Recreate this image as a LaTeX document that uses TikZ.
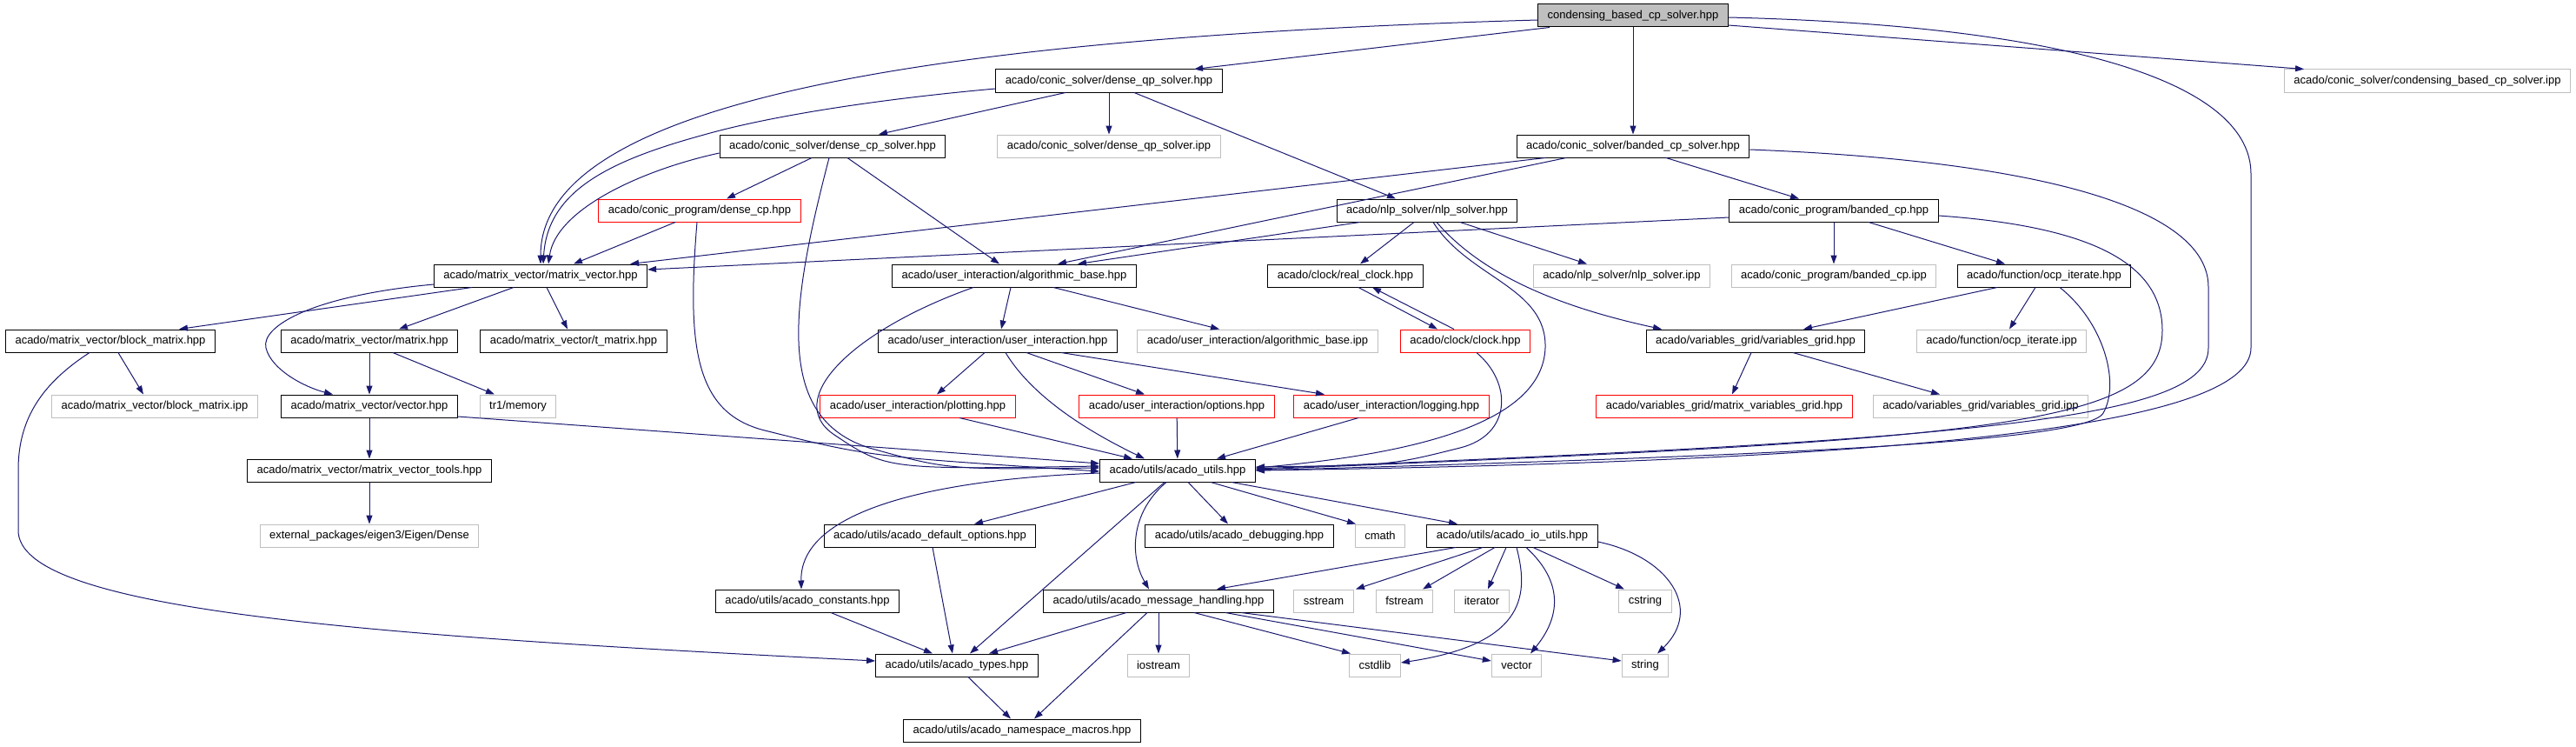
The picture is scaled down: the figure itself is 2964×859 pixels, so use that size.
\documentclass[tikz,border=0pt]{standalone}
\usepackage{fontspec}
\setmainfont{Liberation Sans}
\usetikzlibrary{arrows.meta}
\definecolor{edgeblue}{HTML}{191970}
\definecolor{extgray}{HTML}{BFBFBF}
\tikzset{
  filebox/.style={draw=black, fill=white, line width=1pt, minimum height=26pt,
    inner xsep=11pt, inner ysep=0pt, font=\fontsize{13}{15}\selectfont},
  extbox/.style={filebox, draw=extgray},
  redbox/.style={filebox, draw=red},
  incl/.style={draw=edgeblue, line width=1pt, -{Triangle[length=10pt,width=7pt]}},
}
\begin{document}
\begin{tikzpicture}[x=1pt,y=-1pt]
    \useasboundingbox (0,0) rectangle (2964,859);
    \node[filebox, fill=extgray] (root) at (1879,18) {condensing\_based\_cp\_solver.hpp};
    \node[filebox] (dqps)   at (1276,93)  {acado/conic\_solver/dense\_qp\_solver.hpp};
    \node[extbox]  (cbipp)  at (2793,93)  {acado/conic\_solver/condensing\_based\_cp\_solver.ipp};
    \node[filebox] (dcps)   at (958,168)  {acado/conic\_solver/dense\_cp\_solver.hpp};
    \node[extbox]  (dqpipp) at (1276,168) {acado/conic\_solver/dense\_qp\_solver.ipp};
    \node[filebox] (bcps)   at (1879,168) {acado/conic\_solver/banded\_cp\_solver.hpp};
    \node[redbox]  (dcp)    at (805,242)  {acado/conic\_program/dense\_cp.hpp};
    \node[filebox] (nlp)    at (1642,242) {acado/nlp\_solver/nlp\_solver.hpp};
    \node[filebox] (bcp)    at (2110,242) {acado/conic\_program/banded\_cp.hpp};
    \node[filebox] (mv)     at (622,317)  {acado/matrix\_vector/matrix\_vector.hpp};
    \node[filebox] (ab)     at (1167,317) {acado/user\_interaction/algorithmic\_base.hpp};
    \node[filebox] (rc)     at (1548,317) {acado/clock/real\_clock.hpp};
    \node[extbox]  (nlpipp) at (1866,317) {acado/nlp\_solver/nlp\_solver.ipp};
    \node[extbox]  (bcpipp) at (2110,317) {acado/conic\_program/banded\_cp.ipp};
    \node[filebox] (ocp)    at (2352,317) {acado/function/ocp\_iterate.hpp};
    \node[filebox] (bm)     at (127,392)  {acado/matrix\_vector/block\_matrix.hpp};
    \node[filebox] (mat)    at (425,392)  {acado/matrix\_vector/matrix.hpp};
    \node[filebox] (tm)     at (660,392)  {acado/matrix\_vector/t\_matrix.hpp};
    \node[filebox] (ui)     at (1148,392) {acado/user\_interaction/user\_interaction.hpp};
    \node[extbox]  (abipp)  at (1447,392) {acado/user\_interaction/algorithmic\_base.ipp};
    \node[redbox]  (clk)    at (1686,392) {acado/clock/clock.hpp};
    \node[filebox] (vg)     at (2020,392) {acado/variables\_grid/variables\_grid.hpp};
    \node[extbox]  (ocpipp) at (2303,392) {acado/function/ocp\_iterate.ipp};
    \node[extbox]  (bmipp)  at (178,467)  {acado/matrix\_vector/block\_matrix.ipp};
    \node[filebox] (vec)    at (425,467)  {acado/matrix\_vector/vector.hpp};
    \node[extbox]  (tr1)    at (596,467)  {tr1/memory};
    \node[redbox]  (plot)   at (1056,467) {acado/user\_interaction/plotting.hpp};
    \node[redbox]  (opt)    at (1354,467) {acado/user\_interaction/options.hpp};
    \node[redbox]  (log)    at (1601,467) {acado/user\_interaction/logging.hpp};
    \node[redbox]  (mvg)    at (1984,467) {acado/variables\_grid/matrix\_variables\_grid.hpp};
    \node[extbox]  (vgipp)  at (2279,467) {acado/variables\_grid/variables\_grid.ipp};
    \node[filebox] (mvt)    at (425,541)  {acado/matrix\_vector/matrix\_vector\_tools.hpp};
    \node[filebox] (utils)  at (1355,541) {acado/utils/acado\_utils.hpp};
    \node[extbox]  (eig)    at (425,616)  {external\_packages/eigen3/Eigen/Dense};
    \node[filebox] (dopt)   at (1070,616) {acado/utils/acado\_default\_options.hpp};
    \node[filebox] (dbg)    at (1426,616) {acado/utils/acado\_debugging.hpp};
    \node[extbox]  (cmath)  at (1588,616) {cmath};
    \node[filebox] (io)     at (1740,616) {acado/utils/acado\_io\_utils.hpp};
    \node[filebox] (cnst)   at (929,691)  {acado/utils/acado\_constants.hpp};
    \node[filebox] (msg)    at (1333,691) {acado/utils/acado\_message\_handling.hpp};
    \node[extbox]  (sstr)   at (1523,691) {sstream};
    \node[extbox]  (fstr)   at (1616,691) {fstream};
    \node[extbox]  (iter)   at (1705,691) {iterator};
    \node[extbox]  (cstr)   at (1893,691) {cstring};
    \node[filebox] (types)  at (1101,765) {acado/utils/acado\_types.hpp};
    \node[extbox]  (iostr)  at (1333,765) {iostream};
    \node[extbox]  (cstdl)  at (1582,765) {cstdlib};
    \node[extbox]  (vect)   at (1745,765) {vector};
    \node[extbox]  (strg)   at (1893,765) {string};
    \node[filebox] (ns)     at (1176,840) {acado/utils/acado\_namespace\_macros.hpp};

    \draw[incl] ([yshift=-5pt]root.west) .. controls (1000,45) and (622,130) .. (mv.north);
    \draw[incl] ([xshift=-96pt]root.south) -- ([xshift=98pt]dqps.north);
    \draw[incl] (root) -- (bcps);
    \draw[incl] ([yshift=-11pt]root.east) -- ([xshift=-142pt]cbipp.north);
    \draw[incl] ([yshift=-2pt]root.east) .. controls (2400,30) and (2590,100) .. (2590,200)
        -- (2590,400) .. controls (2590,490) and (2200,530) .. (utils.east);

    \draw[incl] ([yshift=-9pt]dqps.west) .. controls (1000,115) and (880,135) .. (810,155)
        .. controls (700,185) and (630,220) .. ([xshift=3pt]mv.north);
    \draw[incl] ([xshift=-50pt]dqps.south) -- ([xshift=53pt]dcps.north);
    \draw[incl] (dqps) -- (dqpipp);
    \draw[incl] ([xshift=29pt]dqps.south) -- ([xshift=-36pt]nlp.north);

    \draw[incl] ([yshift=-8pt]dcps.west) .. controls (740,195) and (640,240) .. ([xshift=9pt]mv.north);
    \draw[incl] ([xshift=-24pt]dcps.south) -- ([xshift=31pt]dcp.north);
    \draw[incl] ([xshift=-4pt]dcps.south) .. controls (910,350) and (890,480) .. (1000,515)
        .. controls (1090,540) .. ([yshift=3pt]utils.west);
    \draw[incl] ([xshift=17pt]dcps.south) -- ([xshift=-17pt]ab.north);

    \draw[incl] ([xshift=-28pt]dcp.south) -- ([xshift=38pt]mv.north);
    \draw[incl] ([xshift=-3pt]dcp.south) .. controls (790,400) and (800,475) .. (880,495)
        .. controls (1000,525) .. ([yshift=-1pt]utils.west);

    \draw[incl] ([xshift=-101pt]bcps.south) -- ([xshift=103pt]mv.north);
    \draw[incl] ([xshift=-77pt]bcps.south) -- ([xshift=50pt]ab.north);
    \draw[incl] ([xshift=38pt]bcps.south) -- ([xshift=-40pt]bcp.north);
    \draw[incl] ([yshift=-4pt]bcps.east) .. controls (2350,185) and (2541,240) .. (2541,330)
        -- (2541,400) .. controls (2541,480) and (2300,505) .. ([yshift=2pt]utils.east);

    \draw[incl] ([xshift=-77pt]nlp.south) -- ([xshift=73pt]ab.north);
    \draw[incl] ([xshift=-15pt]nlp.south) -- ([xshift=17pt]rc.north);
    \draw[incl] ([xshift=7pt]nlp.south) .. controls (1690,320) and (1780,330) .. (1778,400)
        .. controls (1775,480) and (1650,520) .. ([yshift=3pt]utils.east);
    \draw[incl] ([xshift=11pt]nlp.south) .. controls (1700,310) and (1780,350) .. ([xshift=-108pt]vg.north);
    \draw[incl] ([xshift=38pt]nlp.south) -- ([xshift=-40pt]nlpipp.north);

    \draw[incl] ([yshift=-8pt]bcp.west) -- ([yshift=7pt]mv.east);
    \draw[incl] (bcp) -- (bcpipp);
    \draw[incl] ([xshift=40pt]bcp.south) -- ([xshift=-45pt]ocp.north);
    \draw[incl] ([yshift=-6pt]bcp.east) .. controls (2400,260) and (2488,300) .. (2488,380)
        .. controls (2488,490) and (2300,505) .. ([yshift=1pt]utils.east);

    \draw[incl] ([xshift=-54pt]ocp.south) -- ([xshift=55pt]vg.north);
    \draw[incl] ([xshift=-10pt]ocp.south) -- ([xshift=9pt]ocpipp.north);
    \draw[incl] ([xshift=18pt]ocp.south) .. controls (2420,370) and (2440,440) .. (2420,475)
        .. controls (2400,510) and (2000,525) .. (utils.east);

    \draw[incl] ([xshift=-79pt]mv.south) -- ([xshift=79pt]bm.north);
    \draw[incl] ([xshift=-31pt]mv.south) -- ([xshift=34pt]mat.north);
    \draw[incl] ([xshift=7pt]mv.south) -- ([xshift=-7pt]tm.north);
    \draw[incl] ([yshift=-10pt]mv.west) .. controls (360,340) and (300,375) .. (306,400)
        .. controls (312,425) and (350,445) .. ([xshift=-42pt]vec.north);

    \draw[incl] ([xshift=-4pt]ab.south) -- ([xshift=4pt]ui.north);
    \draw[incl] ([xshift=45pt]ab.south) -- ([xshift=-44pt]abipp.north);
    \draw[incl] ([xshift=-47pt]ab.south) .. controls (980,380) and (900,460) .. (960,500)
        .. controls (1020,540) .. ([yshift=5pt]utils.west);

    \draw[incl] ([xshift=15pt]rc.south) -- ([xshift=-32pt]clk.north);
    \draw[incl] ([xshift=-13pt]clk.north) -- ([xshift=31pt]rc.south);
    \draw[incl] ([xshift=13pt]clk.south) .. controls (1740,440) and (1740,500) .. (1680,515)
        .. controls (1600,535) .. ([yshift=4pt]utils.east);

    \draw[incl] (mat) -- (vec);
    \draw[incl] ([xshift=27pt]mat.south) -- ([xshift=-27pt]tr1.north);
    \draw[incl] (vec) -- (mvt);
    \draw[incl] ([yshift=-12pt]vec.east) -- ([yshift=8pt]utils.west);
    \draw[incl] (mvt) -- (eig);

    \draw[incl] ([xshift=-15pt]ui.south) -- ([xshift=22pt]plot.north);
    \draw[incl] ([xshift=9pt]ui.south) .. controls (1190,460) and (1260,500) .. ([xshift=-38pt]utils.north);
    \draw[incl] ([xshift=33pt]ui.south) -- ([xshift=-37pt]opt.north);
    \draw[incl] ([xshift=73pt]ui.south) -- ([xshift=-77pt]log.north);
    \draw[incl] ([xshift=48pt]plot.south) -- ([xshift=-52pt]utils.north);
    \draw[incl] (opt) -- (utils);
    \draw[incl] ([xshift=-38pt]log.south) -- ([xshift=45pt]utils.north);

    \draw[incl] ([xshift=-5pt]vg.south) -- ([xshift=9pt]mvg.north);
    \draw[incl] ([xshift=43pt]vg.south) -- ([xshift=-47pt]vgipp.north);

    \draw[incl] ([xshift=9pt]bm.south) -- ([xshift=-13pt]bmipp.north);
    \draw[incl] ([xshift=-24pt]bm.south) .. controls (50,440) and (21,480) .. (21,540)
        -- (21,610) .. controls (21,700) and (400,730) .. ([yshift=5pt]types.west);

    \draw[incl] ([yshift=-3pt]utils.west) .. controls (1100,550) and (920,580) .. ([xshift=-7pt]cnst.north);
    \draw[incl] ([xshift=-48pt]utils.south) -- ([xshift=51pt]dopt.north);
    \draw[incl] ([xshift=-15pt]utils.south) -- ([xshift=15pt]types.north);
    \draw[incl] ([xshift=-13pt]utils.south) .. controls (1300,590) and (1300,640) .. ([xshift=-11pt]msg.north);
    \draw[incl] ([xshift=12pt]utils.south) -- ([xshift=-13pt]dbg.north);
    \draw[incl] ([xshift=38pt]utils.south) -- ([xshift=-28pt]cmath.north);
    \draw[incl] ([xshift=62pt]utils.south) -- ([xshift=-63pt]io.north);

    \draw[incl] ([xshift=-65pt]io.south) -- ([xshift=67pt]msg.north);
    \draw[incl] ([xshift=-34pt]io.south) -- ([xshift=37pt]sstr.north);
    \draw[incl] ([xshift=-20pt]io.south) -- ([xshift=21pt]fstr.north);
    \draw[incl] ([xshift=-7pt]io.south) -- ([xshift=7pt]iter.north);
    \draw[incl] ([xshift=5pt]io.south) .. controls (1758,680) and (1760,740) .. ([yshift=3pt]cstdl.east);
    \draw[incl] ([xshift=16pt]io.south) .. controls (1800,670) and (1795,710) .. ([xshift=16pt]vect.north);
    \draw[incl] ([xshift=24pt]io.south) -- ([xshift=-24pt]cstr.north);
    \draw[incl] ([yshift=-7pt]io.east) .. controls (1920,640) and (1960,700) .. ([xshift=14pt]strg.north);

    \draw[incl] ([xshift=-37pt]msg.south) -- ([xshift=37pt]types.north);
    \draw[incl] ([xshift=-13pt]msg.south) -- ([xshift=14pt]ns.north);
    \draw[incl] (msg) -- (iostr);
    \draw[incl] ([xshift=41pt]msg.south) -- ([xshift=-28pt]cstdl.north);
    \draw[incl] ([xshift=77pt]msg.south) -- ([yshift=5pt]vect.west);
    \draw[incl] ([xshift=95pt]msg.south) -- ([yshift=5pt]strg.west);
    \draw[incl] ([xshift=3pt]dopt.south) -- ([xshift=-5pt]types.north);
    \draw[incl] ([xshift=27pt]cnst.south) -- ([xshift=-28pt]types.north);
    \draw[incl] ([xshift=13pt]types.south) -- ([xshift=-13pt]ns.north);
\end{tikzpicture}
\end{document}
